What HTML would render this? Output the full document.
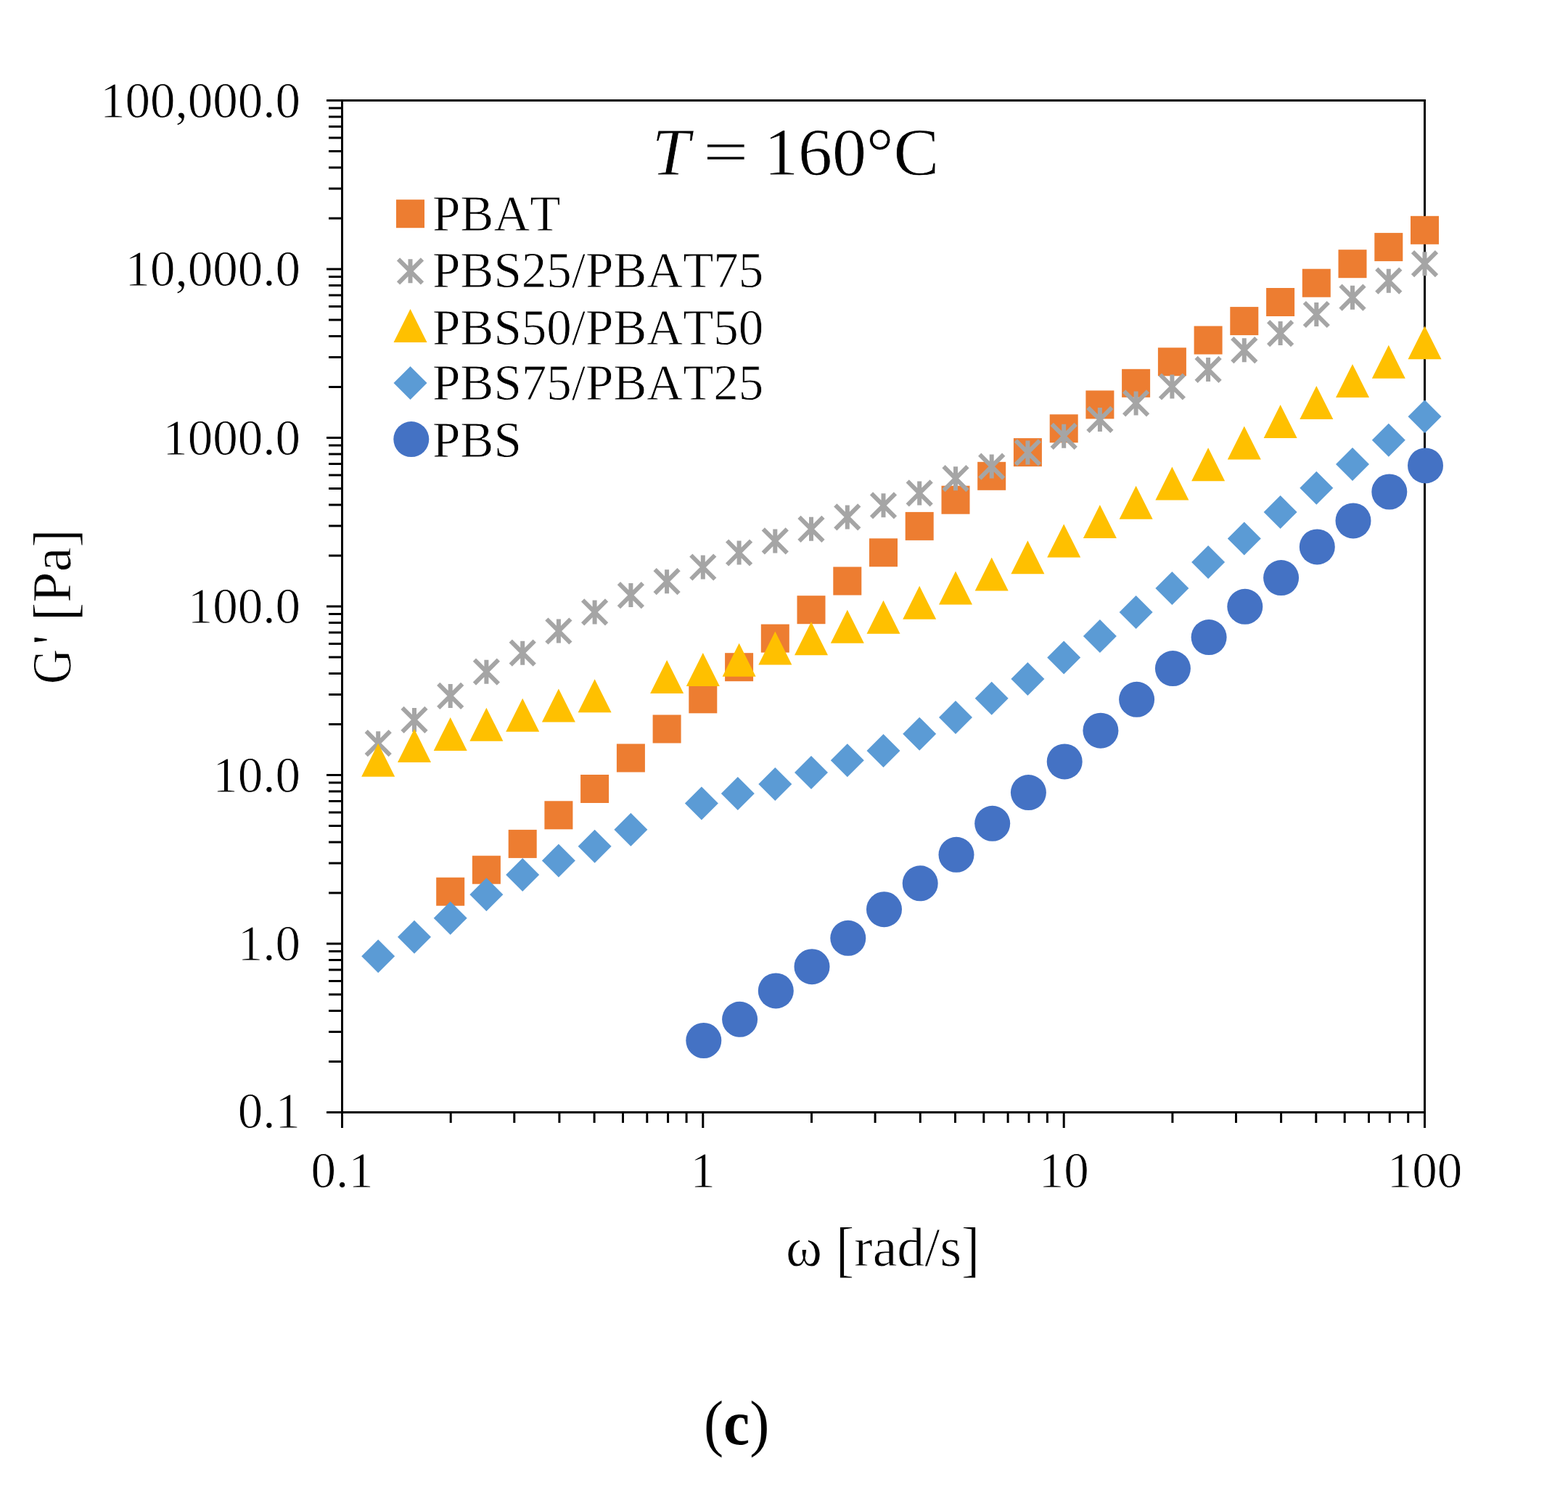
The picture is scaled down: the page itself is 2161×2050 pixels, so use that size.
<!DOCTYPE html><html><head><meta charset="utf-8"><title>G' vs frequency</title><style>html,body{margin:0;padding:0;background:#fff;}svg{display:block;}text{font-family:"Liberation Serif","Times New Roman",serif;font-kerning:none;fill:#000;stroke:#fff;stroke-width:0.8px;}text.cap{stroke:none;}</style></head><body>
<svg width="2161" height="2050" viewBox="0 0 2161 2050">
<rect width="2161" height="2050" fill="#fff"/>
<path d="M450 1533.5H471.5M453 1463.5H471.5M453 1422.6H471.5M453 1393.5H471.5M453 1371H471.5M453 1352.6H471.5M453 1337H471.5M453 1323.5H471.5M453 1311.6H471.5M450 1301H471.5M453 1231H471.5M453 1190.1H471.5M453 1161H471.5M453 1138.5H471.5M453 1120.1H471.5M453 1104.5H471.5M453 1091H471.5M453 1079.1H471.5M450 1068.5H471.5M453 998.5H471.5M453 957.6H471.5M453 928.5H471.5M453 906H471.5M453 887.6H471.5M453 872H471.5M453 858.5H471.5M453 846.6H471.5M450 836H471.5M453 766H471.5M453 725.1H471.5M453 696H471.5M453 673.5H471.5M453 655.1H471.5M453 639.5H471.5M453 626H471.5M453 614.1H471.5M450 603.5H471.5M453 533.5H471.5M453 492.6H471.5M453 463.5H471.5M453 441H471.5M453 422.6H471.5M453 407H471.5M453 393.5H471.5M453 381.6H471.5M450 371H471.5M453 301H471.5M453 260.1H471.5M453 231H471.5M453 208.5H471.5M453 190.1H471.5M453 174.5H471.5M453 161H471.5M453 149.1H471.5M450 138.5H471.5M471.5 1533.5V1555M621.2 1533.5V1548M708.8 1533.5V1548M770.9 1533.5V1548M819.1 1533.5V1548M858.5 1533.5V1548M891.8 1533.5V1548M920.6 1533.5V1548M946.1 1533.5V1548M968.8 1533.5V1555M1118.5 1533.5V1548M1206.1 1533.5V1548M1268.3 1533.5V1548M1316.5 1533.5V1548M1355.8 1533.5V1548M1389.1 1533.5V1548M1418 1533.5V1548M1443.4 1533.5V1548M1466.2 1533.5V1555M1615.9 1533.5V1548M1703.5 1533.5V1548M1765.6 1533.5V1548M1813.8 1533.5V1548M1853.2 1533.5V1548M1886.5 1533.5V1548M1915.3 1533.5V1548M1940.7 1533.5V1548M1963.5 1533.5V1555" stroke="#000" stroke-width="3" fill="none"/>
<rect x="471.5" y="138.5" width="1492" height="1395" fill="none" stroke="#000" stroke-width="3"/>
<g font-size="69" text-anchor="end">
<text x="414" y="161.5">100,000.0</text>
<text x="414" y="394">10,000.0</text>
<text x="414" y="626.5">1000.0</text>
<text x="414" y="859">100.0</text>
<text x="414" y="1091.5">10.0</text>
<text x="414" y="1324">1.0</text>
<text x="414" y="1554.5">0.1</text>
</g>
<g font-size="69" text-anchor="middle">
<text x="471.5" y="1637">0.1</text>
<text x="968.8" y="1637">1</text>
<text x="1466.2" y="1637">10</text>
<text x="1963.5" y="1637">100</text>
</g>
<g font-size="76"><text x="1083" y="1744.5">ω</text><text transform="translate(1152.02 1751.2) scale(1 1.102)">[</text><text x="1177.33" y="1744.5">rad/s</text><text transform="translate(1325.05 1751.2) scale(1 1.102)">]</text></g>
<g transform="translate(97 943.5) rotate(-90)" font-size="76"><text transform="translate(0.38 0) scale(0.877 1)">G</text><text x="54.87" y="0">'</text><text transform="translate(87.56 5.5) scale(1 1.089)">[</text><text x="112.87" y="0">Pa</text><text transform="translate(188.86 5.5) scale(1 1.089)">]</text></g>
<g font-size="94"><text x="898.5" y="241" font-style="italic">T</text><text transform="translate(968.98 236.6) scale(1.18 0.879)">=</text><text x="1053" y="241">160°C</text></g>
<g fill="#ED7D31"><rect x="546" y="275.2" width="39" height="39"/></g>
<text x="596" y="317.7" font-size="69">PBAT</text>
<g stroke="#A5A5A5" stroke-width="6" fill="none"><path d="M549 357.3L582 390.3M582 357.3L549 390.3M565.5 357.3L565.5 390.3"/></g>
<text x="596" y="395.8" font-size="69">PBS25/PBAT75</text>
<g fill="#FFC000"><path d="M565.5 426L588.5 472L542.5 472Z"/></g>
<text x="596" y="474.5" font-size="69">PBS50/PBAT50</text>
<g fill="#5B9BD5"><path d="M565.5 505.1L588.5 528.1L565.5 551.1L542.5 528.1Z"/></g>
<text x="596" y="551.3" font-size="69">PBS75/PBAT25</text>
<g fill="#4472C4"><circle cx="566.8" cy="605.6" r="24.5"/></g>
<text x="596" y="630.1" font-size="69">PBS</text>
<g fill="#ED7D31"><rect x="601.2" y="1209.7" width="39" height="39"/><rect x="650.9" y="1179.7" width="39" height="39"/><rect x="700.7" y="1143.9" width="39" height="39"/><rect x="750.4" y="1104.3" width="39" height="39"/><rect x="800.1" y="1068" width="39" height="39"/><rect x="849.9" y="1025.5" width="39" height="39"/><rect x="899.6" y="985.5" width="39" height="39"/><rect x="949.3" y="944.3" width="39" height="39"/><rect x="999.1" y="900.2" width="39" height="39"/><rect x="1048.8" y="860.6" width="39" height="39"/><rect x="1098.5" y="821.2" width="39" height="39"/><rect x="1148.3" y="781.5" width="39" height="39"/><rect x="1198" y="742.3" width="39" height="39"/><rect x="1247.7" y="705.9" width="39" height="39"/><rect x="1297.5" y="669.7" width="39" height="39"/><rect x="1347.2" y="636.8" width="39" height="39"/><rect x="1396.9" y="604.1" width="39" height="39"/><rect x="1446.7" y="571.3" width="39" height="39"/><rect x="1496.4" y="538.4" width="39" height="39"/><rect x="1546.1" y="508.8" width="39" height="39"/><rect x="1595.9" y="479.3" width="39" height="39"/><rect x="1645.6" y="449.5" width="39" height="39"/><rect x="1695.3" y="423.1" width="39" height="39"/><rect x="1745.1" y="397" width="39" height="39"/><rect x="1794.8" y="370.7" width="39" height="39"/><rect x="1844.5" y="344.2" width="39" height="39"/><rect x="1894.3" y="321.1" width="39" height="39"/><rect x="1944" y="297.8" width="39" height="39"/></g>
<g stroke="#A5A5A5" stroke-width="6" fill="none"><path d="M504.7 1008.2L537.7 1041.2M537.7 1008.2L504.7 1041.2M521.2 1008.2L521.2 1041.2"/><path d="M554.5 975.9L587.5 1008.9M587.5 975.9L554.5 1008.9M571 975.9L571 1008.9"/><path d="M604.2 942.9L637.2 975.9M637.2 942.9L604.2 975.9M620.7 942.9L620.7 975.9"/><path d="M653.9 909.7L686.9 942.7M686.9 909.7L653.9 942.7M670.4 909.7L670.4 942.7"/><path d="M703.7 883.7L736.7 916.7M736.7 883.7L703.7 916.7M720.2 883.7L720.2 916.7"/><path d="M753.4 853.5L786.4 886.5M786.4 853.5L753.4 886.5M769.9 853.5L769.9 886.5"/><path d="M803.1 827.4L836.1 860.4M836.1 827.4L803.1 860.4M819.6 827.4L819.6 860.4"/><path d="M852.9 804.1L885.9 837.1M885.9 804.1L852.9 837.1M869.4 804.1L869.4 837.1"/><path d="M902.6 785.2L935.6 818.2M935.6 785.2L902.6 818.2M919.1 785.2L919.1 818.2"/><path d="M952.3 765.5L985.3 798.5M985.3 765.5L952.3 798.5M968.8 765.5L968.8 798.5"/><path d="M1002.1 745.5L1035.1 778.5M1035.1 745.5L1002.1 778.5M1018.6 745.5L1018.6 778.5"/><path d="M1051.8 729.4L1084.8 762.4M1084.8 729.4L1051.8 762.4M1068.3 729.4L1068.3 762.4"/><path d="M1101.5 712.8L1134.5 745.8M1134.5 712.8L1101.5 745.8M1118 712.8L1118 745.8"/><path d="M1151.3 696.4L1184.3 729.4M1184.3 696.4L1151.3 729.4M1167.8 696.4L1167.8 729.4"/><path d="M1201 680.3L1234 713.3M1234 680.3L1201 713.3M1217.5 680.3L1217.5 713.3"/><path d="M1250.7 663.4L1283.7 696.4M1283.7 663.4L1250.7 696.4M1267.2 663.4L1267.2 696.4"/><path d="M1300.5 643.2L1333.5 676.2M1333.5 643.2L1300.5 676.2M1317 643.2L1317 676.2"/><path d="M1350.2 626.6L1383.2 659.6M1383.2 626.6L1350.2 659.6M1366.7 626.6L1366.7 659.6"/><path d="M1399.9 607.4L1432.9 640.4M1432.9 607.4L1399.9 640.4M1416.4 607.4L1416.4 640.4"/><path d="M1449.7 584.8L1482.7 617.8M1482.7 584.8L1449.7 617.8M1466.2 584.8L1466.2 617.8"/><path d="M1499.4 561.9L1532.4 594.9M1532.4 561.9L1499.4 594.9M1515.9 561.9L1515.9 594.9"/><path d="M1549.1 539.4L1582.1 572.4M1582.1 539.4L1549.1 572.4M1565.6 539.4L1565.6 572.4"/><path d="M1598.9 516.5L1631.9 549.5M1631.9 516.5L1598.9 549.5M1615.4 516.5L1615.4 549.5"/><path d="M1648.6 492.9L1681.6 525.9M1681.6 492.9L1648.6 525.9M1665.1 492.9L1665.1 525.9"/><path d="M1698.3 466.2L1731.3 499.2M1731.3 466.2L1698.3 499.2M1714.8 466.2L1714.8 499.2"/><path d="M1748.1 443.1L1781.1 476.1M1781.1 443.1L1748.1 476.1M1764.6 443.1L1764.6 476.1"/><path d="M1797.8 417L1830.8 450M1830.8 417L1797.8 450M1814.3 417L1814.3 450"/><path d="M1847.5 393.7L1880.5 426.7M1880.5 393.7L1847.5 426.7M1864 393.7L1864 426.7"/><path d="M1897.3 370.7L1930.3 403.7M1930.3 370.7L1897.3 403.7M1913.8 370.7L1913.8 403.7"/><path d="M1947 347.2L1980 380.2M1980 347.2L1947 380.2M1963.5 347.2L1963.5 380.2"/></g>
<g fill="#FFC000"><path d="M521.2 1024.8L544.2 1070.8L498.2 1070.8Z"/><path d="M571 1004.9L594 1050.9L548 1050.9Z"/><path d="M620.7 988.9L643.7 1034.9L597.7 1034.9Z"/><path d="M670.4 975.7L693.4 1021.7L647.4 1021.7Z"/><path d="M720.2 962.7L743.2 1008.7L697.2 1008.7Z"/><path d="M769.9 949.4L792.9 995.4L746.9 995.4Z"/><path d="M819.6 936.3L842.6 982.3L796.6 982.3Z"/><path d="M919.1 909.9L942.1 955.9L896.1 955.9Z"/><path d="M968.8 899.9L991.8 945.9L945.8 945.9Z"/><path d="M1018.6 886.7L1041.6 932.7L995.6 932.7Z"/><path d="M1068.3 870.5L1091.3 916.5L1045.3 916.5Z"/><path d="M1118 857.3L1141 903.3L1095 903.3Z"/><path d="M1167.8 840.8L1190.8 886.8L1144.8 886.8Z"/><path d="M1217.5 827.8L1240.5 873.8L1194.5 873.8Z"/><path d="M1267.2 807.8L1290.2 853.8L1244.2 853.8Z"/><path d="M1317 787.6L1340 833.6L1294 833.6Z"/><path d="M1366.7 768.5L1389.7 814.5L1343.7 814.5Z"/><path d="M1416.4 745.2L1439.4 791.2L1393.4 791.2Z"/><path d="M1466.2 722.4L1489.2 768.4L1443.2 768.4Z"/><path d="M1515.9 696.1L1538.9 742.1L1492.9 742.1Z"/><path d="M1565.6 669.7L1588.6 715.7L1542.6 715.7Z"/><path d="M1615.4 643.4L1638.4 689.4L1592.4 689.4Z"/><path d="M1665.1 617.2L1688.1 663.2L1642.1 663.2Z"/><path d="M1714.8 587.6L1737.8 633.6L1691.8 633.6Z"/><path d="M1764.6 558L1787.6 604L1741.6 604Z"/><path d="M1814.3 531.9L1837.3 577.9L1791.3 577.9Z"/><path d="M1864 501.9L1887 547.9L1841 547.9Z"/><path d="M1913.8 475.8L1936.8 521.8L1890.8 521.8Z"/><path d="M1963.5 449.2L1986.5 495.2L1940.5 495.2Z"/></g>
<g fill="#5B9BD5"><path d="M521.2 1295.2L544.2 1318.2L521.2 1341.2L498.2 1318.2Z"/><path d="M571 1268.8L594 1291.8L571 1314.8L548 1291.8Z"/><path d="M620.7 1242.7L643.7 1265.7L620.7 1288.7L597.7 1265.7Z"/><path d="M670.4 1210.2L693.4 1233.2L670.4 1256.2L647.4 1233.2Z"/><path d="M720.2 1183.1L743.2 1206.1L720.2 1229.1L697.2 1206.1Z"/><path d="M769.9 1163.4L792.9 1186.4L769.9 1209.4L746.9 1186.4Z"/><path d="M819.6 1143.8L842.6 1166.8L819.6 1189.8L796.6 1166.8Z"/><path d="M869.4 1120.7L892.4 1143.7L869.4 1166.7L846.4 1143.7Z"/><path d="M966.9 1084.4L989.9 1107.4L966.9 1130.4L943.9 1107.4Z"/><path d="M1016.8 1071.1L1039.8 1094.1L1016.8 1117.1L993.8 1094.1Z"/><path d="M1068.3 1058L1091.3 1081L1068.3 1104L1045.3 1081Z"/><path d="M1118 1041.9L1141 1064.9L1118 1087.9L1095 1064.9Z"/><path d="M1167.8 1025.3L1190.8 1048.3L1167.8 1071.3L1144.8 1048.3Z"/><path d="M1217.5 1012L1240.5 1035L1217.5 1058L1194.5 1035Z"/><path d="M1267.2 988.8L1290.2 1011.8L1267.2 1034.8L1244.2 1011.8Z"/><path d="M1317 966L1340 989L1317 1012L1294 989Z"/><path d="M1366.7 939.7L1389.7 962.7L1366.7 985.7L1343.7 962.7Z"/><path d="M1416.4 912.9L1439.4 935.9L1416.4 958.9L1393.4 935.9Z"/><path d="M1466.2 883.4L1489.2 906.4L1466.2 929.4L1443.2 906.4Z"/><path d="M1515.9 854.1L1538.9 877.1L1515.9 900.1L1492.9 877.1Z"/><path d="M1565.6 820.9L1588.6 843.9L1565.6 866.9L1542.6 843.9Z"/><path d="M1615.4 788.1L1638.4 811.1L1615.4 834.1L1592.4 811.1Z"/><path d="M1665.1 752L1688.1 775L1665.1 798L1642.1 775Z"/><path d="M1714.8 719.4L1737.8 742.4L1714.8 765.4L1691.8 742.4Z"/><path d="M1764.6 683L1787.6 706L1764.6 729L1741.6 706Z"/><path d="M1814.3 649.8L1837.3 672.8L1814.3 695.8L1791.3 672.8Z"/><path d="M1864 617.1L1887 640.1L1864 663.1L1841 640.1Z"/><path d="M1913.8 583.8L1936.8 606.8L1913.8 629.8L1890.8 606.8Z"/><path d="M1963.5 551.3L1986.5 574.3L1963.5 597.3L1940.5 574.3Z"/></g>
<g fill="#4472C4"><circle cx="969.8" cy="1434.5" r="24.5"/><circle cx="1019.6" cy="1405.3" r="24.5"/><circle cx="1069.3" cy="1365.9" r="24.5"/><circle cx="1119" cy="1332.7" r="24.5"/><circle cx="1168.8" cy="1293.3" r="24.5"/><circle cx="1218.5" cy="1253.7" r="24.5"/><circle cx="1268.2" cy="1217.8" r="24.5"/><circle cx="1318" cy="1178.3" r="24.5"/><circle cx="1367.7" cy="1135.3" r="24.5"/><circle cx="1417.4" cy="1092.6" r="24.5"/><circle cx="1467.2" cy="1049.9" r="24.5"/><circle cx="1516.9" cy="1007.2" r="24.5"/><circle cx="1566.6" cy="964.3" r="24.5"/><circle cx="1616.4" cy="921.6" r="24.5"/><circle cx="1666.1" cy="878.6" r="24.5"/><circle cx="1715.8" cy="836.3" r="24.5"/><circle cx="1765.6" cy="796.6" r="24.5"/><circle cx="1815.3" cy="753.9" r="24.5"/><circle cx="1865" cy="717.9" r="24.5"/><circle cx="1914.8" cy="678" r="24.5"/><circle cx="1964.5" cy="641.9" r="24.5"/></g>
<text class="cap" transform="translate(970 1991) scale(0.935 1)" font-size="87">(<tspan font-weight="bold">c</tspan>)</text>
</svg></body></html>
